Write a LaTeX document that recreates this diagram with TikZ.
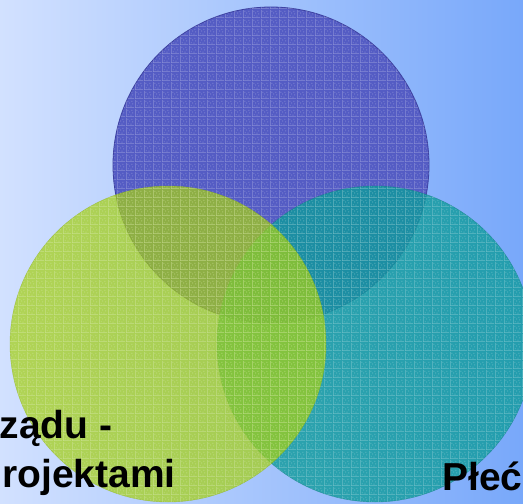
\documentclass[tikz,border=0pt]{standalone}
\usepackage{fontspec}
\setmainfont{Liberation Sans}
\usetikzlibrary{patterns}
\pgfdeclarepatternformonly{speckle}{\pgfpointorigin}{\pgfqpoint{9pt}{9pt}}{\pgfqpoint{9pt}{9pt}}{
  \pgfpathrectangle{\pgfqpoint{0pt}{0pt}}{\pgfqpoint{9pt}{0.6pt}}
  \pgfpathrectangle{\pgfqpoint{0pt}{0pt}}{\pgfqpoint{0.6pt}{9pt}}
  \pgfpathrectangle{\pgfqpoint{2pt}{2pt}}{\pgfqpoint{1pt}{1pt}}
  \pgfpathrectangle{\pgfqpoint{5pt}{1.5pt}}{\pgfqpoint{1pt}{1pt}}
  \pgfpathrectangle{\pgfqpoint{3.5pt}{5pt}}{\pgfqpoint{1pt}{1pt}}
  \pgfpathrectangle{\pgfqpoint{7pt}{4pt}}{\pgfqpoint{1pt}{1pt}}
  \pgfpathrectangle{\pgfqpoint{1.5pt}{7pt}}{\pgfqpoint{1pt}{1pt}}
  \pgfpathrectangle{\pgfqpoint{6pt}{7pt}}{\pgfqpoint{1pt}{1pt}}
  \pgfusepath{fill}
}
\definecolor{bgleft}{RGB}{210,225,255}
\definecolor{bgright}{RGB}{120,168,250}
\definecolor{topfill}{RGB}{84,92,196}
\definecolor{topedge}{RGB}{60,64,160}
\definecolor{greenfill}{RGB}{165,208,20}
\definecolor{tealfill}{RGB}{15,155,155}
\tikzset{
  venn/.style={circle, minimum size=316pt, inner sep=0pt},
  speck/.style={pattern=speckle, pattern color=white, opacity=0.3},
  bigtext/.style={inner sep=0pt, font=\fontsize{39}{46}\selectfont\bfseries, text=black}
}
\begin{document}
\begin{tikzpicture}[x=1pt,y=-1pt]
\useasboundingbox (0,0) rectangle (523,504);
\shade[left color=bgleft, right color=bgright] (0,0) rectangle (523,504);
% top circle
\node[venn, fill=topfill, draw=topedge, line width=0.8pt] (top) at (271,165) {};
\fill[speck] (271,165) circle[radius=158];
% teal circle
\node[venn, fill=tealfill, fill opacity=0.8, draw=tealfill!80!black, draw opacity=0.6] (teal) at (375,344) {};
\fill[speck] (375,344) circle[radius=158];
% green circle
\node[venn, fill=greenfill, fill opacity=0.72, draw=greenfill!85!black, draw opacity=0.6] (green) at (168,344) {};
\fill[speck] (168,344) circle[radius=158];
% texts
\node[bigtext, anchor=base west] (l1) at (-0.5,438) {ządu\hspace{0.27em}-};
\node[bigtext, anchor=base east] (l2) at (176,487) {rojektami};
\node[bigtext, anchor=base west] (r1) at (442,490) {Płeć};
\end{tikzpicture}
\end{document}
